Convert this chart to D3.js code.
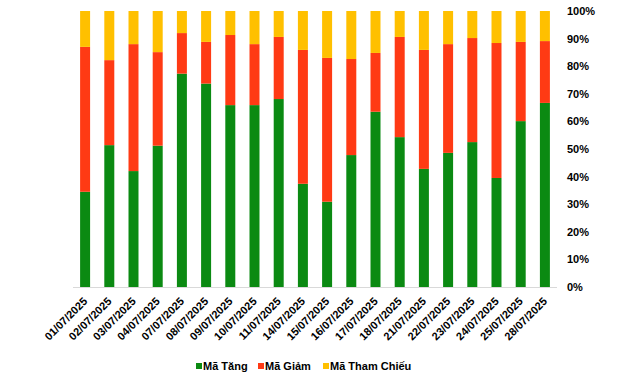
<!DOCTYPE html>
<html><head><meta charset="utf-8">
<script src="https://cdn.jsdelivr.net/npm/d3@7"></script>
<style>
html,body{margin:0;padding:0;background:#fff;}
text{font-family:Arial,"Liberation Sans",sans-serif;font-weight:bold;fill:#000;}
</style></head>
<body>
<svg id="chart" width="640" height="376"></svg>
<script>
const dates = ["01/07/2025","02/07/2025","03/07/2025","04/07/2025","07/07/2025","08/07/2025","09/07/2025","10/07/2025","11/07/2025","14/07/2025","15/07/2025","16/07/2025","17/07/2025","18/07/2025","21/07/2025","22/07/2025","23/07/2025","24/07/2025","25/07/2025","28/07/2025"];
const maTang = [34.5,51.4,42.0,51.2,77.3,73.7,65.9,65.9,68.1,37.4,30.9,47.8,63.5,54.3,42.8,48.6,52.5,39.5,60.1,66.7];
const maGiam = [52.5,30.8,46.0,33.9,14.7,15.1,25.4,22.1,22.5,48.5,52.1,34.8,21.3,36.3,43.1,39.4,37.7,48.9,28.7,22.4];
const maThamChieu = [13.0,17.8,12.0,14.9,8.0,11.2,8.7,12.0,9.4,14.1,17.0,17.4,15.2,9.4,14.1,12.0,9.8,11.6,11.2,10.9];
const seriesNames = ["Mã Tăng","Mã Giảm","Mã Tham Chiếu"];
const colors = ["#0B8A12","#FF3A14","#FFC000"];
const yTicks = [0,0.1,0.2,0.3,0.4,0.5,0.6,0.7,0.8,0.9,1];

const rows = dates.map((d,i)=>({date:d, "Mã Tăng":maTang[i], "Mã Giảm":maGiam[i], "Mã Tham Chiếu":maThamChieu[i]}));
const stack = d3.stack().keys(seriesNames).offset(d3.stackOffsetExpand);
const layers = stack(rows);

const svg = d3.select("#chart");
const x = d3.scaleBand().domain(dates).range([73,557]).paddingInner(0.587).paddingOuter(0.2935);
const y = d3.scaleLinear().domain([0,1]).range([287,11]);

svg.append("g").selectAll("g").data(layers).join("g")
  .attr("fill",(d,i)=>colors[i])
  .selectAll("rect").data(d=>d).join("rect")
  .attr("x",d=>x(d.data.date))
  .attr("width",x.bandwidth())
  .attr("y",d=>y(d[1]))
  .attr("height",d=>y(d[0])-y(d[1]));

// baseline
svg.append("line").attr("x1",73).attr("x2",557).attr("y1",y(0)+0.5).attr("y2",y(0)+0.5)
  .attr("stroke","#d9d9d9").attr("stroke-width",1);

// right axis
const yAxis = d3.axisRight(y).tickValues(yTicks).tickFormat(d3.format(".0%")).tickSize(0).tickPadding(10);
const gy = svg.append("g").attr("transform","translate(557,0)").call(yAxis);
gy.select(".domain").remove();
gy.selectAll("text").style("font-size","11px").style("font-family","Arial,'Liberation Sans',sans-serif").style("font-weight","bold").attr("fill","#000");

// x axis labels
const xAxis = d3.axisBottom(x).tickSize(0).tickPadding(0);
const gx = svg.append("g").attr("transform","translate(0,287)").call(xAxis);
gx.select(".domain").remove();
gx.selectAll("text")
  .style("font-size","11px").style("font-family","Arial,'Liberation Sans',sans-serif").style("font-weight","bold").attr("fill","#000")
  .attr("text-anchor","end").attr("dy","0").attr("y",0)
  .attr("transform","translate(3,15) rotate(-45)");

// legend
const legendX = [196,258,323];
const lg = svg.append("g");
seriesNames.forEach((n,i)=>{
  lg.append("rect").attr("x",legendX[i]).attr("y",363).attr("width",6).attr("height",6).attr("fill",colors[i]);
  lg.append("text").attr("x",legendX[i]+7).attr("y",370).style("font-size","11px").text(n);
});
</script>
</body></html>
